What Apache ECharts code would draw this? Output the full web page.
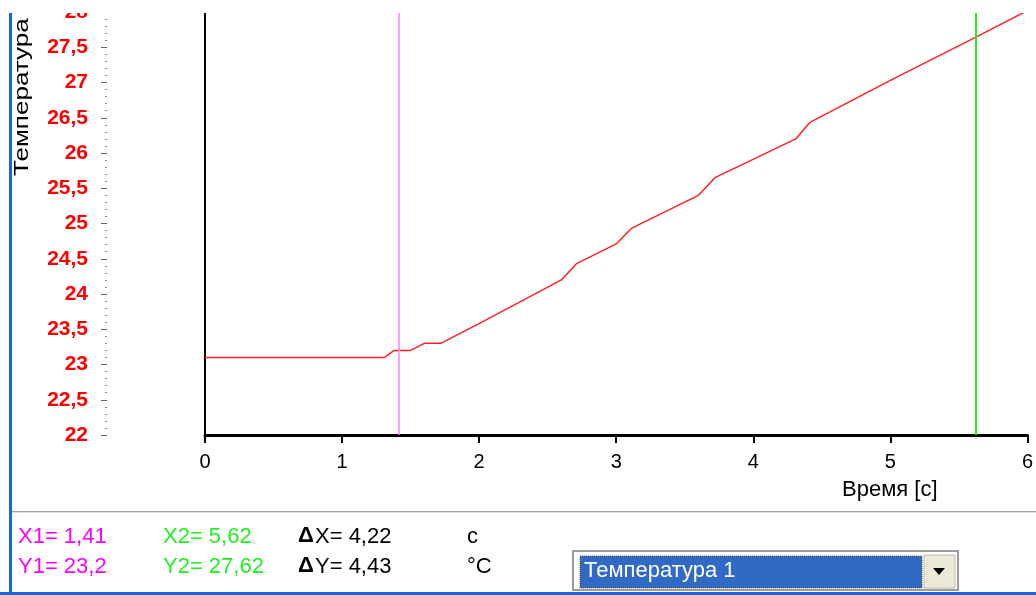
<!DOCTYPE html>
<html>
<head>
<meta charset="utf-8">
<script src="https://cdn.jsdelivr.net/npm/echarts@6/dist/echarts.min.js"></script>
<style>
  html, body { margin: 0; padding: 0; background: #fff; }
  #chart { width: 1036px; height: 595px; }
</style>
</head>
<body>
<div id="chart"></div>
<script>
// время, с
var timeData = [0, 1.31, 1.38, 1.5, 1.6, 1.72, 2.02, 2.6, 2.71, 3.0, 3.11, 3.6, 3.72, 4.31, 4.41, 5.0, 5.62, 6.0];
// температура, °C
var tempData = [23.1, 23.1, 23.2, 23.2, 23.3, 23.3, 23.6, 24.2, 24.43, 24.71, 24.93, 25.4, 25.65, 26.2, 26.43, 27.03, 27.64, 28.02];
var cursorX = [1.41, 5.62];
var cursorColors = ['#ff80ff', '#22ee22'];
var readoutRow1 = ['X1= 1,41', 'X2= 5,62', 'X= 4,22', 'c'];
var readoutRow2 = ['Y1= 23,2', 'Y2= 27,62', 'Y= 4,43', '°C'];
var channelName = 'Температура 1';

var lineData = timeData.map(function (t, i) {
    return [t, tempData[i]];
});

var font = '"Liberation Sans", Arial, sans-serif';
var txt = function (x, y, text, color, size, weight) {
    return {
        type: 'text', left: x, top: y, z: 100,
        style: { text: text, fill: color, font: (weight || 'normal') + ' ' + size + 'px ' + font }
    };
};

var myChart = echarts.init(document.getElementById('chart'));
myChart.setOption({
    animation: false,
    backgroundColor: '#fff',
    grid: { left: 205, right: 6, top: 12, bottom: 160 },
    xAxis: [{
        type: 'value', min: 0, max: 6, interval: 1,
        axisLine: { onZero: false, lineStyle: { color: '#000', width: 3 } },
        axisTick: { length: 8, lineStyle: { color: '#000', width: 2 } },
        axisLabel: { color: '#000', fontSize: 20, fontFamily: font, margin: 17 },
        splitLine: { show: false }
    }],
    yAxis: [{
        type: 'value', min: 22, max: 28, interval: 0.5,
        axisLine: { show: true, lineStyle: { color: '#000', width: 2 } },
        axisTick: { show: false },
        axisLabel: { show: false },
        splitLine: { show: false }
    }, {
        type: 'value', min: 22, max: 28, interval: 0.5,
        position: 'left', offset: 98,
        axisLine: { show: false },
        axisTick: { show: true, length: 6, lineStyle: { color: '#666', width: 1 } },
        minorTick: { show: true, splitNumber: 5, length: 2, lineStyle: { color: '#888', width: 1 } },
        axisLabel: {
            color: '#ff0000', fontSize: 21, fontWeight: 'bold', fontFamily: font, margin: 19,
            formatter: function (v) { return String(v).replace('.', ','); }
        },
        splitLine: { show: false }
    }],
    series: [{
        type: 'line',
        data: lineData,
        showSymbol: false,
        lineStyle: { color: '#ff2020', width: 1.5 },
        markLine: {
            silent: true, symbol: 'none', label: { show: false },
            data: cursorX.map(function (x, i) {
                return { xAxis: x, lineStyle: { color: cursorColors[i], type: 'solid', width: i === 0 ? 1.5 : 2 } };
            })
        }
    }],
    graphic: [
        // обрезка сверху
        { type: 'rect', shape: { x: 0, y: 0, width: 1036, height: 13 }, style: { fill: '#fff' }, z: 90 },
        // синяя рамка окна
        { type: 'rect', shape: { x: 9, y: 13, width: 3, height: 582 }, style: { fill: '#1e62d8' }, z: 95 },
        { type: 'rect', shape: { x: 0, y: 592, width: 1036, height: 3 }, style: { fill: '#1e62d8' }, z: 95 },
        // разделитель панели
        { type: 'rect', shape: { x: 12, y: 511, width: 1024, height: 1 }, style: { fill: '#a0a0a0' }, z: 95 },
        { type: 'rect', shape: { x: 12, y: 512, width: 1024, height: 1 }, style: { fill: '#e0e0e0' }, z: 95 },
        {
            type: 'text', x: 12, y: 176, rotation: Math.PI / 2, scaleX: 1.24, z: 100,
            style: { text: 'Температура', fill: '#000', font: 'normal 21px ' + font }
        },
        txt(842, 479, 'Время [c]', '#000', 22),
        txt(18, 526, readoutRow1[0], '#ff00ff', 22),
        txt(163, 526, readoutRow1[1], '#22ee22', 22),
        txt(298, 525, '\u0394', '#000', 22, 'bold'),
        txt(315, 526, readoutRow1[2], '#000', 22),
        txt(467, 526, readoutRow1[3], '#000', 22),
        txt(18, 556, readoutRow2[0], '#ff00ff', 22),
        txt(163, 556, readoutRow2[1], '#22ee22', 22),
        txt(298, 555, '\u0394', '#000', 22, 'bold'),
        txt(315, 556, readoutRow2[2], '#000', 22),
        txt(467, 556, readoutRow2[3], '#000', 22),
        // выпадающий список
        { type: 'rect', shape: { x: 573, y: 551, width: 385, height: 39 }, style: { fill: '#fff', stroke: '#9c9c9c', lineWidth: 2 }, z: 95 },
        { type: 'rect', shape: { x: 580, y: 556, width: 342, height: 32 }, style: { fill: '#316ac5', stroke: '#6a5a20', lineWidth: 1, lineDash: [1, 1] }, z: 96 },
        { type: 'rect', shape: { x: 924, y: 555, width: 31, height: 33 }, style: { fill: '#ece9d8', stroke: '#c0bca8', lineWidth: 1 }, z: 96 },
        { type: 'polygon', shape: { points: [[933, 568], [945, 568], [939, 575]] }, style: { fill: '#000' }, z: 97 },
        txt(584, 560, channelName, '#fff', 22)
    ]
});
</script>
</body>
</html>
